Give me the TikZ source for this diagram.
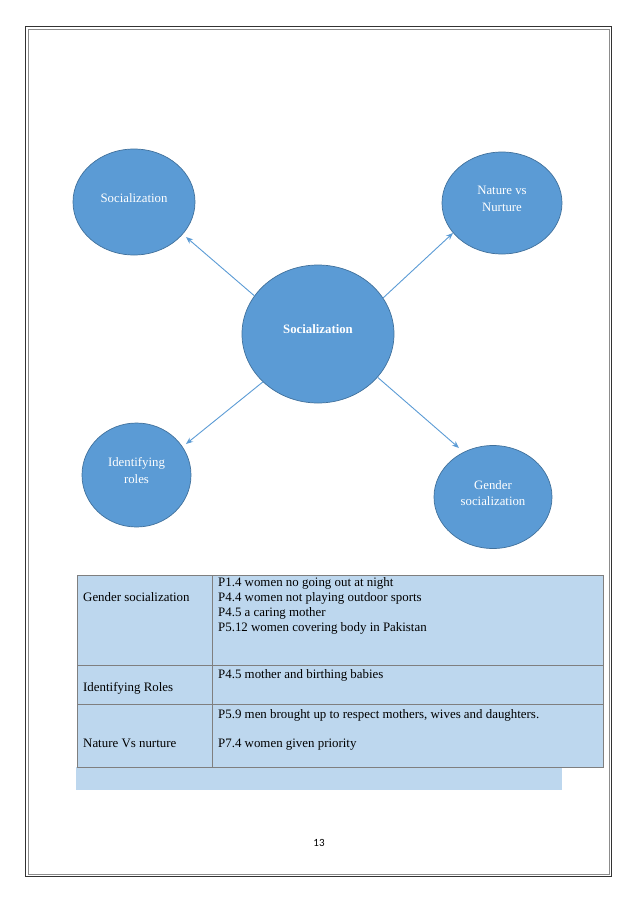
\documentclass[tikz,border=0pt]{standalone}
\usepackage{fontspec}
\setmainfont{Liberation Serif}
\newfontfamily\pagenumfont{Carlito}
\usetikzlibrary{shapes.geometric,arrows.meta}
\definecolor{ellfill}{HTML}{5B9BD5}
\definecolor{elledge}{HTML}{41719C}
\definecolor{tabfill}{HTML}{BDD7EE}
\definecolor{tabedge}{HTML}{7F7F7F}
\tikzset{
  bubble/.style={ellipse,fill=ellfill,draw=elledge,line width=0.7pt,inner sep=0pt},
  bubbletext/.style={text=white,align=center,inner sep=0pt,font=\fontsize{12.8}{16.5}\selectfont},
  link/.style={draw=ellfill,line width=0.9pt,-{Stealth[length=7pt,width=5.5pt]}},
  cell/.style={fill=tabfill,draw=tabedge,line width=0.8pt},
  celltext/.style={anchor=base west,inner sep=0pt,font=\fontsize{12.9}{15}\selectfont,text=black}
}
\begin{document}
\begin{tikzpicture}[x=1pt,y=-1pt]
\useasboundingbox (0,0) rectangle (638,903);
% page border
\draw[line width=1.6pt,black!80] (25.5,26.5) rectangle (611.5,876.5);
\draw[line width=0.5pt,black!45] (28,29) rectangle (609,874);
% ellipses
\node[bubble,minimum width=122pt,minimum height=106pt] (tl) at (134,202) {};
\node[bubble,minimum width=120pt,minimum height=102pt] (tr) at (502,203) {};
\node[bubble,minimum width=152pt,minimum height=138pt] (c) at (318,334) {};
\node[bubble,minimum width=109pt,minimum height=104pt] (bl) at (136.5,475) {};
\node[bubble,minimum width=118pt,minimum height=103pt] (br) at (493,497) {};
\node[bubbletext] (tlt) at ([yshift=3.5pt]tl.center) {Socialization};
\node[bubbletext] (trt) at ([yshift=4pt]tr.center) {Nature vs\\Nurture};
\node[bubbletext,font=\fontsize{12.8}{16.5}\selectfont\bfseries] (ct) at ([yshift=5pt]c.center) {Socialization};
\node[bubbletext] (blt) at ([yshift=4.5pt]bl.center) {Identifying\\roles};
\node[bubbletext] (brt) at ([yshift=4pt]br.center) {Gender\\socialization};
% arrow ends
\coordinate (e1) at (186,237);
\coordinate (e2) at (453,233);
\coordinate (e3) at (186,444);
\coordinate (e4) at (459,448);
\draw[link] (c.149) -- (e1);
\draw[link] (c.29) -- (e2);
\draw[link] (c.221) -- (e3);
\draw[link] (c.324) -- (e4);
% table
\fill[tabfill] (76,767) rectangle (562,790);
\draw[cell] (77,575) rectangle (212,665);
\draw[cell] (212,575) rectangle (603,665);
\draw[cell] (77,665) rectangle (212,704);
\draw[cell] (212,665) rectangle (603,704);
\draw[cell] (77,704) rectangle (212,767);
\draw[cell] (212,704) rectangle (603,767);
\node[celltext] (l1) at (83,601.5) {Gender socialization};
\node[celltext] (r1a) at (218,586) {P1.4 women no going out at night};
\node[celltext] (r1b) at (218,601.5) {P4.4 women not playing outdoor sports};
\node[celltext] (r1c) at (218,616) {P4.5 a caring mother};
\node[celltext] (r1d) at (218,631.5) {P5.12 women covering body in Pakistan};
\node[celltext] (l2) at (83,691) {Identifying Roles};
\node[celltext] (r2) at (218,678) {P4.5 mother and birthing babies};
\node[celltext] (l3) at (83,747) {Nature Vs nurture};
\node[celltext] (r3a) at (218,718) {P5.9 men brought up to respect mothers, wives and daughters.};
\node[celltext] (r3b) at (218,747) {P7.4 women given priority};
% page number
\node[font=\pagenumfont\fontsize{11}{13}\selectfont,anchor=base,inner sep=0pt] (pn) at (319,846) {13};
\end{tikzpicture}
\end{document}
